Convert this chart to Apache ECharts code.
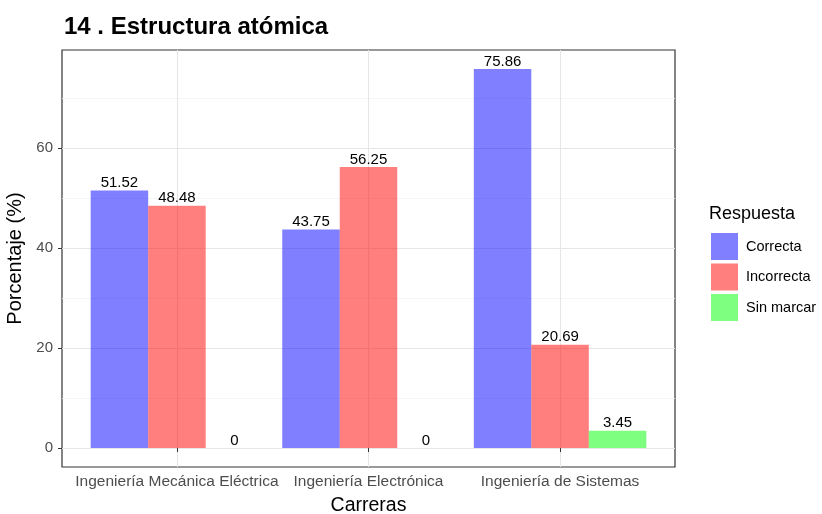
<!DOCTYPE html>
<html>
<head>
<meta charset="utf-8">
<script src="https://cdn.jsdelivr.net/npm/echarts@6/dist/echarts.min.js"></script>
<style>
html,body{margin:0;padding:0;background:#fff;}
#chart{width:822px;height:514px;}
</style>
</head>
<body>
<div id="chart"></div>
<script>
const categories = ['Ingeniería Mecánica Eléctrica', 'Ingeniería Electrónica', 'Ingeniería de Sistemas'];
const seriesNames = ['Correcta', 'Incorrecta', 'Sin marcar'];
const correcta = [51.52, 43.75, 75.86];
const incorrecta = [48.48, 56.25, 20.69];
const sinMarcar = [0, 0, 3.45];
const yTicks = [0, 20, 40, 60];
const yMinor = [10, 30, 50, 70];

const colors = ['rgba(0,0,255,0.5)', 'rgba(255,0,0,0.5)', 'rgba(0,255,0,0.5)'];
const allVals = correcta.concat(incorrecta, sinMarcar);
const vMax = Math.max.apply(null, allVals), vMin = 0;
const span = vMax - vMin;
const yMin = vMin - span * 0.05, yMax = vMax + span * 0.05;
const xPos = categories.map((c, i) => i + 1);

function toData(arr) { return arr.map((v, i) => [xPos[i], v]); }

const gridLines = [];
yMinor.forEach(v => gridLines.push({ yAxis: v, lineStyle: { color: '#f2f2f2', width: 0.8, type: 'solid' } }));
yTicks.forEach(v => gridLines.push({ yAxis: v, lineStyle: { color: '#e6e6e6', width: 1.1, type: 'solid' } }));
xPos.forEach(v => gridLines.push({ xAxis: v, lineStyle: { color: '#e6e6e6', width: 1.1, type: 'solid' } }));

const FONT = 'Liberation Sans';
const chart = echarts.init(document.getElementById('chart'), null, { renderer: 'canvas' });
const barSeries = [correcta, incorrecta, sinMarcar].map((arr, k) => ({
  name: seriesNames[k],
  type: 'bar',
  data: toData(arr),
  barWidth: 57.5,
  barGap: '0%',
  z: 3,
  itemStyle: { color: colors[k] },
  label: {
    show: true, position: 'top', distance: 0,
    color: '#000', fontSize: 15, fontFamily: FONT,
    formatter: p => String(p.value[1])
  }
}));

chart.setOption({
  animation: false,
  textStyle: { fontFamily: FONT },
  title: [
    { text: '14 . Estructura atómica', left: 59, top: 10,
      textStyle: { fontSize: 24, fontWeight: 'bold', color: '#000', fontFamily: FONT } },
    { text: 'Respuesta', left: 704, top: 200,
      textStyle: { fontSize: 18, fontWeight: 'normal', color: '#000', fontFamily: FONT } }
  ],
  legend: {
    orient: 'vertical', left: 706, top: 228,
    itemWidth: 27, itemHeight: 27, itemGap: 3.5,
    icon: 'rect',
    data: seriesNames,
    textStyle: { fontSize: 14.5, color: '#000', fontFamily: FONT, padding: [0, 0, 0, 3] },
    selectedMode: false
  },
  grid: { left: 62, right: 147, top: 50, bottom: 47, show: true, borderColor: '#333', borderWidth: 1.2,
    backgroundColor: 'transparent', containLabel: false, outerBoundsMode: 'none' },
  xAxis: {
    type: 'value', min: 0.4, max: 3.6,
    name: 'Carreras', nameLocation: 'middle', nameGap: 29,
    nameTextStyle: { fontSize: 19.5, color: '#000', fontFamily: FONT },
    axisLine: { show: false },
    splitLine: { show: false },
    axisTick: { show: true, length: 4, lineStyle: { color: '#333' }, customValues: xPos },
    axisLabel: { customValues: xPos, fontSize: 15.5, color: '#4d4d4d', margin: 7, fontFamily: FONT,
      formatter: v => categories[Math.round(v) - 1] || '' }
  },
  yAxis: {
    type: 'value', min: yMin, max: yMax,
    name: 'Porcentaje (%)', nameLocation: 'middle', nameGap: 30,
    nameTextStyle: { fontSize: 20, color: '#000', fontFamily: FONT },
    axisLine: { show: false },
    splitLine: { show: false },
    axisTick: { show: true, length: 4, lineStyle: { color: '#333' }, customValues: yTicks },
    axisLabel: { customValues: yTicks, fontSize: 15, color: '#4d4d4d', margin: 9, fontFamily: FONT }
  },
  series: [
    { name: 'grid', type: 'scatter', data: [], z: 1, silent: true,
      markLine: { silent: true, z: 0, symbol: ['none', 'none'], label: { show: false }, animation: false, data: gridLines } }
  ].concat(barSeries)
});
</script>
</body>
</html>
